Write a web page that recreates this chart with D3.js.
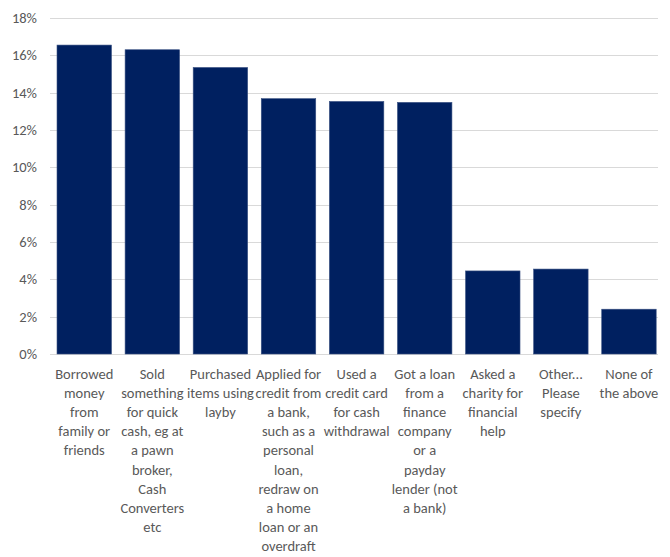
<!DOCTYPE html>
<html>
<head>
<meta charset="utf-8">
<script src="https://cdn.jsdelivr.net/npm/d3@7"></script>
<style>
  body { margin: 0; background: #fff; }
  svg text { font-family: Carlito, "Liberation Sans Narrow", "Open Sans", sans-serif; fill: #595959; }
</style>
</head>
<body>
<svg id="chart" width="670" height="557"></svg>
<script>
// Category labels, split into lines the way the reference wraps them
const categories = [
    ["Borrowed", "money", "from", "family or", "friends"],
    ["Sold", "something", "for quick", "cash, eg at", "a pawn", "broker,", "Cash", "Converters", "etc"],
    ["Purchased", "items using", "layby"],
    ["Applied for", "credit from", "a bank,", "such as a", "personal", "loan,", "redraw on", "a home", "loan or an", "overdraft"],
    ["Used a", "credit card", "for cash", "withdrawal"],
    ["Got a loan", "from a", "finance", "company", "or a", "payday", "lender (not", "a bank)"],
    ["Asked a", "charity for", "financial", "help"],
    ["Other...", "Please", "specify"],
    ["None of", "the above"]
];
const values = [16.55, 16.3, 15.35, 13.68, 13.53, 13.48, 4.45, 4.55, 2.4];
const yTicks = [0, 2, 4, 6, 8, 10, 12, 14, 16, 18];

const svg = d3.select("#chart");
const plotLeft = 50, plotRight = 658, plotTop = 18, plotBottom = 354;

// band range runs a bit past the gridlines so the bars sit where the reference has them
const x = d3.scaleBand()
    .domain(d3.range(values.length))
    .range([50.2, 663])
    .paddingInner(0.2)
    .paddingOuter(0.1);

const y = d3.scaleLinear().domain([0, 18]).range([plotBottom, plotTop]);

// gridlines
svg.append("g")
    .selectAll("line")
    .data(yTicks)
    .enter().append("line")
    .attr("x1", plotLeft).attr("x2", plotRight)
    .attr("y1", d => Math.round(y(d)) + 0.5)
    .attr("y2", d => Math.round(y(d)) + 0.5)
    .attr("stroke", "#d9d9d9")
    .attr("stroke-width", 1);

// y tick labels
svg.append("g")
    .selectAll("text")
    .data(yTicks)
    .enter().append("text")
    .attr("x", 37)
    .attr("y", d => y(d))
    .attr("dy", "0.35em")
    .attr("text-anchor", "end")
    .attr("font-size", "14.5px")
    .text(d => d + "%");

// bars
svg.append("g")
    .selectAll("rect")
    .data(values)
    .enter().append("rect")
    .attr("x", (d, i) => x(i))
    .attr("y", d => y(d))
    .attr("width", x.bandwidth())
    .attr("height", d => plotBottom - y(d))
    .attr("fill", "#002060")
    .attr("stroke", "#3a5283")
    .attr("stroke-width", 0.6);

// category labels
const labels = svg.append("g")
    .selectAll("text")
    .data(categories)
    .enter().append("text")
    .attr("text-anchor", "middle")
    .attr("font-size", "14.5px")
    .attr("x", (d, i) => x(i) + x.bandwidth() / 2)
    .attr("y", 379);

labels.selectAll("tspan")
    .data((d, i) => d.map(line => ({ line, i })))
    .enter().append("tspan")
    .attr("x", d => x(d.i) + x.bandwidth() / 2)
    .attr("dy", (d, j) => j === 0 ? 0 : 19.1)
    .text(d => d.line);
</script>
</body>
</html>
